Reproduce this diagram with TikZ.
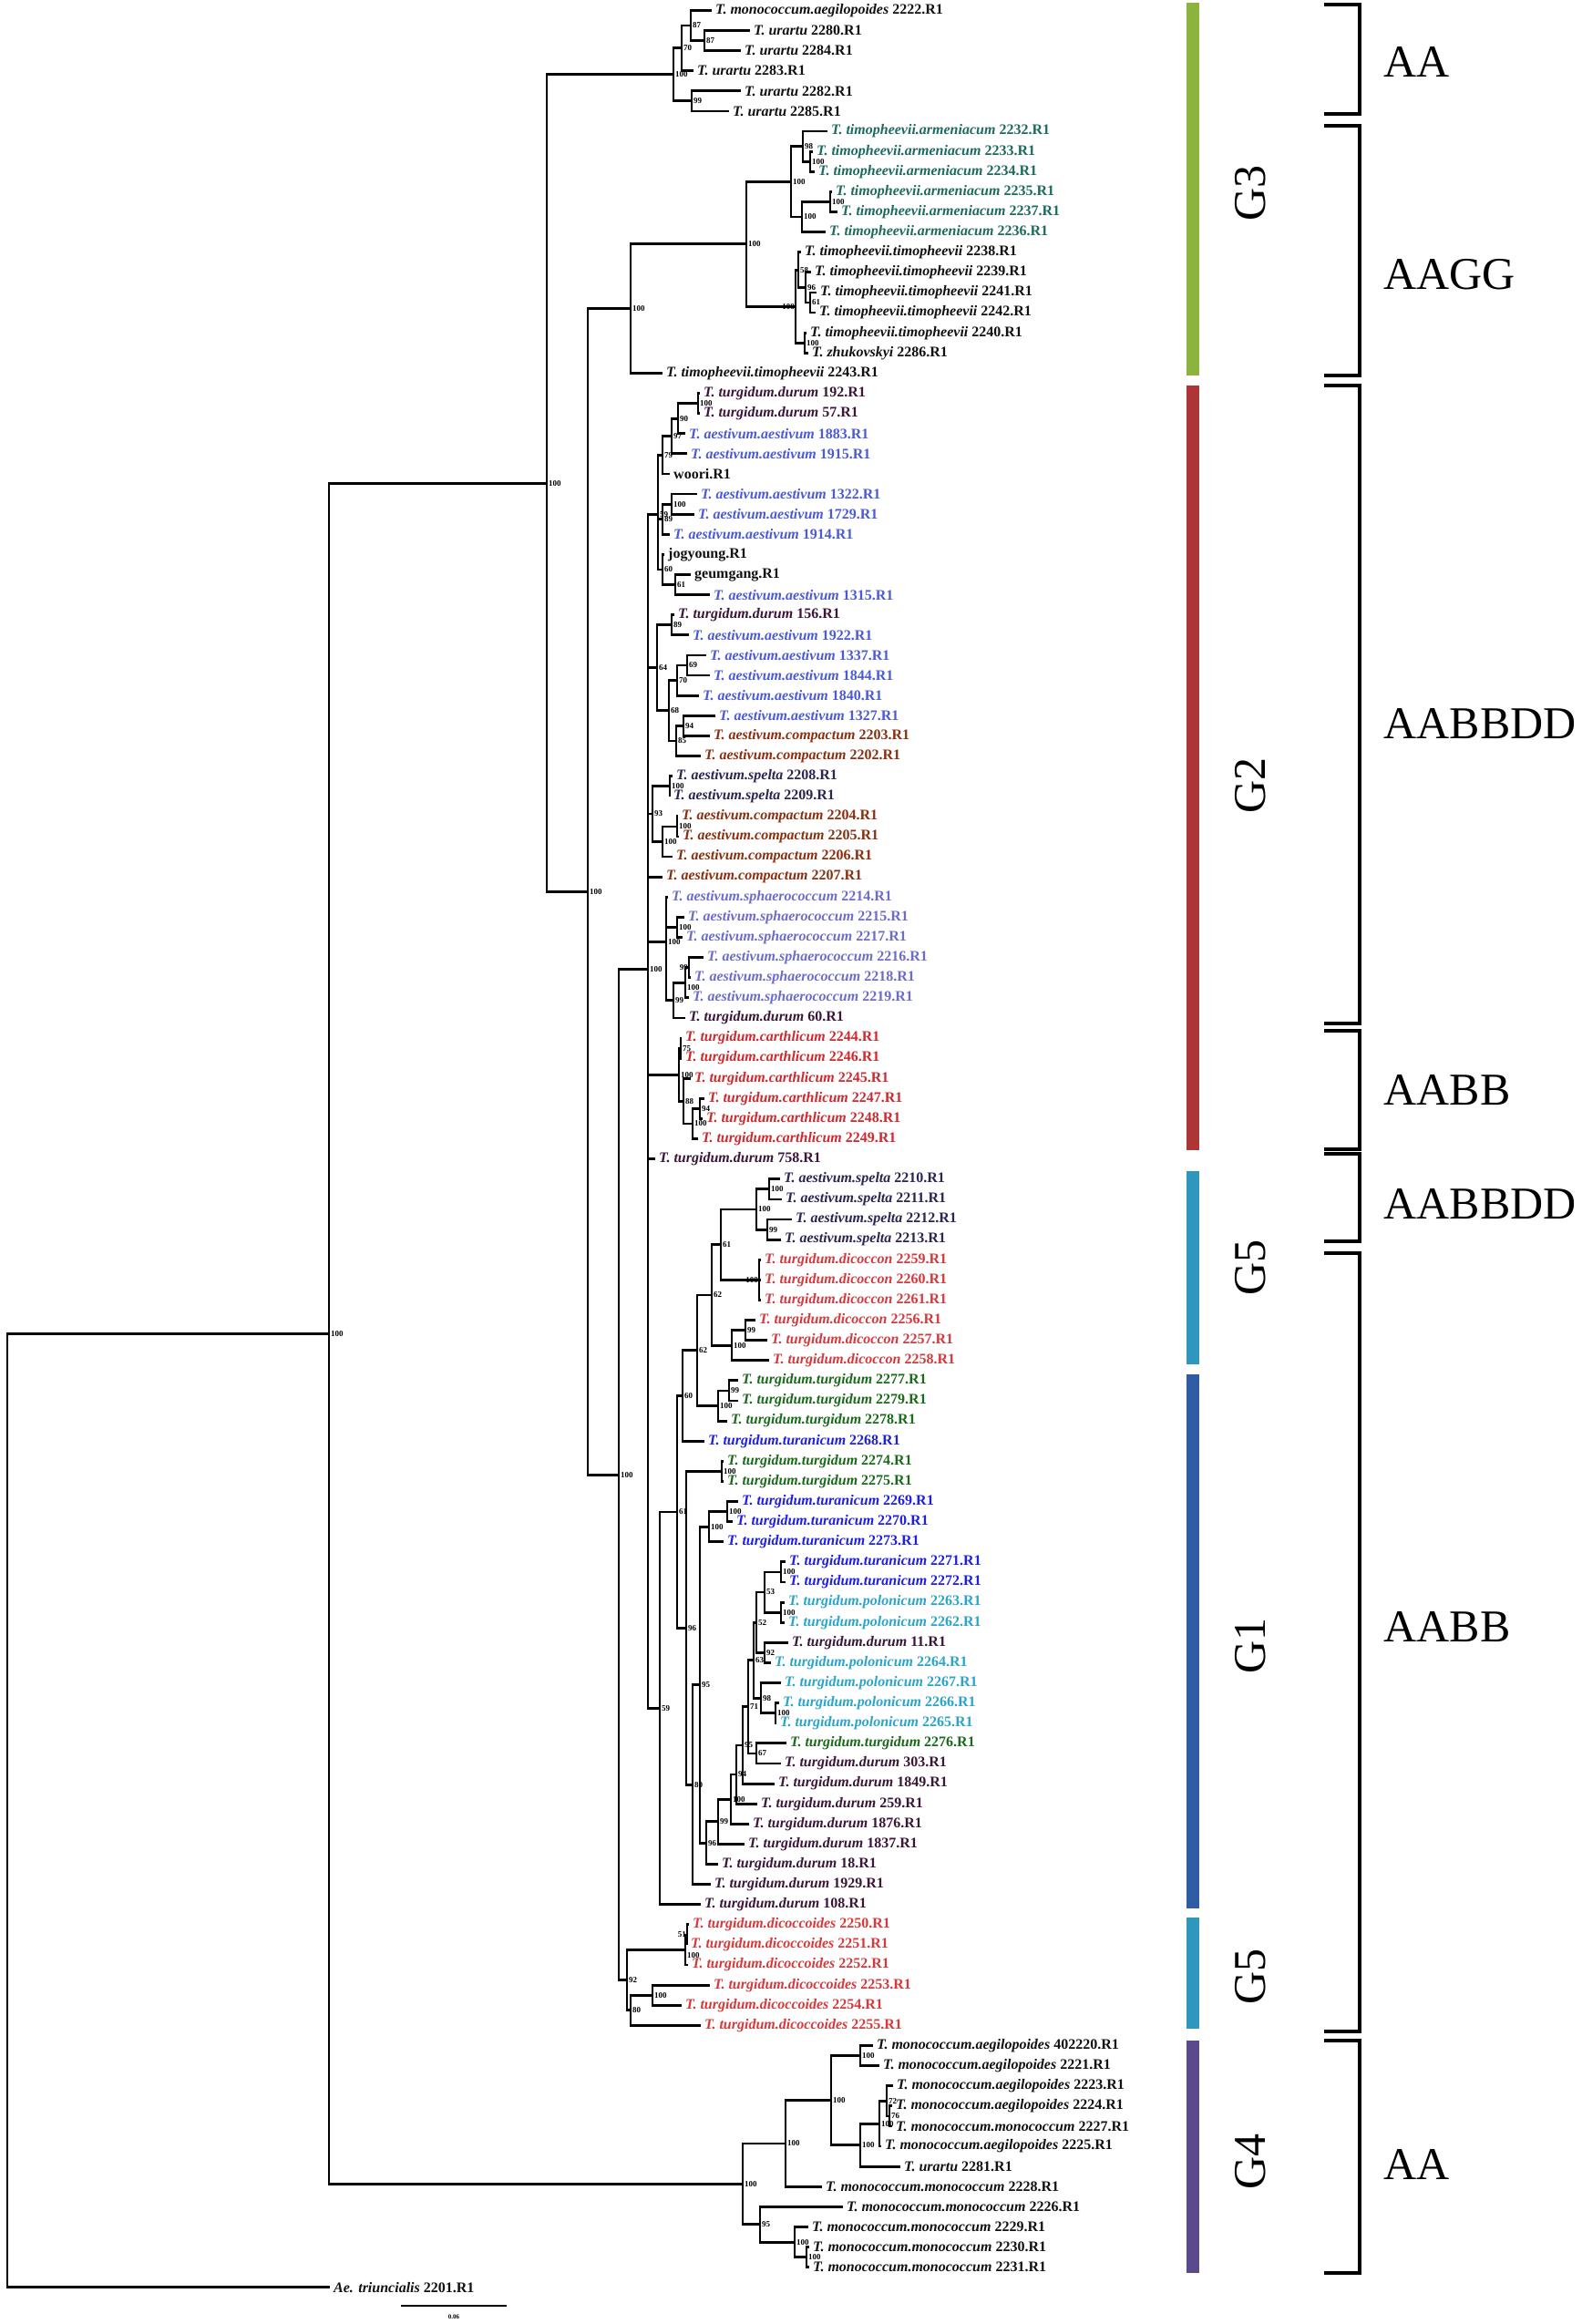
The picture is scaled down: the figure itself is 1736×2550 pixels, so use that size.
\documentclass[tikz,border=0pt]{standalone}
\usepackage{fontspec}
\setmainfont{Liberation Serif}
\definecolor{cblk}{HTML}{111111}
\definecolor{carm}{HTML}{1D6B5F}
\definecolor{cdur}{HTML}{3A1638}
\definecolor{caes}{HTML}{4B5AD6}
\definecolor{ccom}{HTML}{8A3010}
\definecolor{cspe}{HTML}{2B2550}
\definecolor{csph}{HTML}{6C6CCB}
\definecolor{ccar}{HTML}{CC2A2E}
\definecolor{cdic}{HTML}{D23A3E}
\definecolor{ctur}{HTML}{1B6A1B}
\definecolor{ctrn}{HTML}{1E1EE6}
\definecolor{cpol}{HTML}{2AA5C9}
\definecolor{cdcd}{HTML}{D6393B}
\definecolor{barG3}{HTML}{8CB43C}
\definecolor{barG2}{HTML}{AE3535}
\definecolor{barG5}{HTML}{2F97BD}
\definecolor{barG1}{HTML}{2E5DA6}
\definecolor{barG4}{HTML}{5A4A8C}
\newcommand\tx[2]{\textit{#1} #2}
\newcommand\lf[4]{\coordinate (l#1) at (#2,{11.4+(#1-1)*22.11}); \node[lab,text=#3] (t#1) at (l#1) {#4};}
\newcommand\kids[2]{\foreach \c in {#2} {\draw[br] (#1) |- (\c);}}
\begin{document}
\begin{tikzpicture}[x=1pt,y=-1pt,
  br/.style={line width=2.8pt, line join=miter},
  lab/.style={font=\fontsize{16}{16}\selectfont\bfseries, anchor=west, inner sep=0pt, xshift=4pt},
  bs/.style={font=\fontsize{9}{9}\selectfont\bfseries, anchor=west, inner sep=0pt, xshift=2pt},
  bsl/.style={font=\fontsize{9}{9}\selectfont\bfseries, anchor=east, inner sep=0pt, xshift=-1pt},
  bsb/.style={font=\fontsize{9}{9}\selectfont\bfseries, anchor=north west, inner sep=0pt, xshift=2pt, yshift=-2.5pt},
  glab/.style={font=\fontsize{50}{50}\selectfont, rotate=90},
  glab2/.style={font=\fontsize{50}{50}\selectfont},
  brk/.style={line width=4pt, line join=miter}]
\useasboundingbox (0,0) rectangle (1736,2550);
\fill[white] (0,0) rectangle (1736,2550);
% ---------------- internal nodes ----------------
\coordinate (r) at (8,1986.5);
\coordinate (A) at (361,1463.2);
\coordinate (B) at (600,530.1);
\coordinate (AAn) at (739,81.9);
\coordinate (X1) at (748,52.9);
\coordinate (X3) at (758,28.0);
\coordinate (X4) at (773,44.6);
\coordinate (X2) at (759,110.9);
\coordinate (C) at (645,978.4);
\coordinate (G) at (692,338.5);
\coordinate (T0) at (819,267.7);
\coordinate (T1) at (868,199.3);
\coordinate (T2) at (881,160.6);
\coordinate (T3) at (889,177.2);
\coordinate (T4) at (880,238.0);
\coordinate (T5) at (911,221.4);
\coordinate (TT) at (873,336.2);
\coordinate (P1) at (876,296.1);
\coordinate (P3) at (884,315.4);
\coordinate (P4) at (889,332.0);
\coordinate (P2) at (883,376.2);
\coordinate (D) at (679,1618.3);
\coordinate (E) at (711,1063.8);
\coordinate (K7) at (722,564.6);
\coordinate (K4) at (727,499.2);
\coordinate (K3) at (737,478.5);
\coordinate (K2) at (744,459.1);
\coordinate (K1) at (766,442.5);
\coordinate (K6) at (727,569.7);
\coordinate (K5) at (737,553.1);
\coordinate (K8) at (727,624.9);
\coordinate (K9) at (741,641.5);
\coordinate (L7) at (721,732.8);
\coordinate (L1) at (737,685.8);
\coordinate (L6) at (734,779.7);
\coordinate (L3) at (743,746.6);
\coordinate (L2) at (754,730.0);
\coordinate (L5) at (742,812.9);
\coordinate (L4) at (750,796.3);
\coordinate (M4) at (716,893.0);
\coordinate (M1) at (735,862.6);
\coordinate (M3) at (727,923.4);
\coordinate (M2) at (743,906.9);
\coordinate (N5) at (731,1033.1);
\coordinate (N1) at (743,1017.4);
\coordinate (N4) at (739,1097.6);
\coordinate (N3) at (752,1078.2);
\coordinate (N2) at (756,1061.6);
\coordinate (R5) at (745,1179.1);
\coordinate (R1) at (747,1150.1);
\coordinate (R4) at (750,1208.1);
\coordinate (R3) at (760,1233.0);
\coordinate (R2) at (768,1216.4);
\coordinate (S) at (724,1874.3);
\coordinate (T61) at (743,1658.9);
\coordinate (U12) at (749,1531.5);
\coordinate (U11) at (765,1481.8);
\coordinate (U8) at (781,1421.0);
\coordinate (U5) at (791,1365.7);
\coordinate (U3) at (830,1327.0);
\coordinate (U1) at (844,1304.8);
\coordinate (U2) at (842,1349.1);
\coordinate (U4) at (833,1404.3);
\coordinate (U7) at (803,1476.2);
\coordinate (U6) at (818,1459.6);
\coordinate (U10) at (788,1542.5);
\coordinate (U9) at (800,1525.9);
\coordinate (T96a) at (753,1786.3);
\coordinate (V1) at (792,1614.4);
\coordinate (T80) at (760,1958.2);
\coordinate (T95) at (768,1848.7);
\coordinate (V3) at (778,1675.2);
\coordinate (V2) at (798,1658.6);
\coordinate (T96b) at (775,2022.2);
\coordinate (T99) at (788,1998.8);
\coordinate (T100) at (802,1974.2);
\coordinate (T94) at (808,1947.0);
\coordinate (T95b) at (815,1914.9);
\coordinate (T71) at (821,1872.8);
\coordinate (T63) at (827,1821.7);
\coordinate (V8) at (830,1780.2);
\coordinate (V6) at (839,1747.0);
\coordinate (V4) at (857,1724.9);
\coordinate (V5) at (857,1769.1);
\coordinate (V7) at (839,1813.4);
\coordinate (V11) at (835,1863.1);
\coordinate (V10) at (851,1879.7);
\coordinate (V12) at (830,1923.9);
\coordinate (F) at (688,2172.7);
\coordinate (Q1) at (752,2139.5);
\coordinate (Qa) at (754,2122.9);
\coordinate (Q2) at (692,2205.8);
\coordinate (Q3) at (716,2189.2);
\coordinate (G4r) at (815,2396.3);
\coordinate (G4g) at (862,2351.9);
\coordinate (G4f) at (912,2304.6);
\coordinate (G4a) at (944,2255.6);
\coordinate (G4e) at (944,2353.7);
\coordinate (G4d) at (965,2330.2);
\coordinate (G4c) at (973,2305.3);
\coordinate (G4b) at (976,2321.9);
\coordinate (G4j) at (834,2440.7);
\coordinate (G4i) at (872,2460.1);
\coordinate (G4h) at (885,2476.7);
% ---------------- leaves ----------------
\lf{1}{781}{cblk}{\tx{T. monococcum.aegilopoides}{2222.R1}}
\lf{2}{823}{cblk}{\tx{T. urartu}{2280.R1}}
\lf{3}{813}{cblk}{\tx{T. urartu}{2284.R1}}
\lf{4}{761}{cblk}{\tx{T. urartu}{2283.R1}}
\lf{5}{813}{cblk}{\tx{T. urartu}{2282.R1}}
\lf{6}{800}{cblk}{\tx{T. urartu}{2285.R1}}
\lf{7}{908}{carm}{\tx{T. timopheevii.armeniacum}{2232.R1}}
\lf{8}{892}{carm}{\tx{T. timopheevii.armeniacum}{2233.R1}}
\lf{9}{894}{carm}{\tx{T. timopheevii.armeniacum}{2234.R1}}
\lf{10}{913}{carm}{\tx{T. timopheevii.armeniacum}{2235.R1}}
\lf{11}{919}{carm}{\tx{T. timopheevii.armeniacum}{2237.R1}}
\lf{12}{906}{carm}{\tx{T. timopheevii.armeniacum}{2236.R1}}
\lf{13}{879}{cblk}{\tx{T. timopheevii.timopheevii}{2238.R1}}
\lf{14}{890}{cblk}{\tx{T. timopheevii.timopheevii}{2239.R1}}
\lf{15}{896}{cblk}{\tx{T. timopheevii.timopheevii}{2241.R1}}
\lf{16}{895}{cblk}{\tx{T. timopheevii.timopheevii}{2242.R1}}
\lf{17}{885}{cblk}{\tx{T. timopheevii.timopheevii}{2240.R1}}
\lf{18}{887}{cblk}{\tx{T. zhukovskyi}{2286.R1}}
\lf{19}{727}{cblk}{\tx{T. timopheevii.timopheevii}{2243.R1}}
\lf{20}{768}{cdur}{\tx{T. turgidum.durum}{192.R1}}
\lf{21}{768}{cdur}{\tx{T. turgidum.durum}{57.R1}}
\lf{22}{752}{caes}{\tx{T. aestivum.aestivum}{1883.R1}}
\lf{23}{754}{caes}{\tx{T. aestivum.aestivum}{1915.R1}}
\lf{24}{735}{cblk}{woori.R1}
\lf{25}{765}{caes}{\tx{T. aestivum.aestivum}{1322.R1}}
\lf{26}{762}{caes}{\tx{T. aestivum.aestivum}{1729.R1}}
\lf{27}{735}{caes}{\tx{T. aestivum.aestivum}{1914.R1}}
\lf{28}{729}{cblk}{jogyoung.R1}
\lf{29}{758}{cblk}{geumgang.R1}
\lf{30}{779}{caes}{\tx{T. aestivum.aestivum}{1315.R1}}
\lf{31}{740}{cdur}{\tx{T. turgidum.durum}{156.R1}}
\lf{32}{756}{caes}{\tx{T. aestivum.aestivum}{1922.R1}}
\lf{33}{775}{caes}{\tx{T. aestivum.aestivum}{1337.R1}}
\lf{34}{779}{caes}{\tx{T. aestivum.aestivum}{1844.R1}}
\lf{35}{767}{caes}{\tx{T. aestivum.aestivum}{1840.R1}}
\lf{36}{785}{caes}{\tx{T. aestivum.aestivum}{1327.R1}}
\lf{37}{779}{ccom}{\tx{T. aestivum.compactum}{2203.R1}}
\lf{38}{769}{ccom}{\tx{T. aestivum.compactum}{2202.R1}}
\lf{39}{738}{cspe}{\tx{T. aestivum.spelta}{2208.R1}}
\lf{40}{735}{cspe}{\tx{T. aestivum.spelta}{2209.R1}}
\lf{41}{744}{ccom}{\tx{T. aestivum.compactum}{2204.R1}}
\lf{42}{745}{ccom}{\tx{T. aestivum.compactum}{2205.R1}}
\lf{43}{738}{ccom}{\tx{T. aestivum.compactum}{2206.R1}}
\lf{44}{727}{ccom}{\tx{T. aestivum.compactum}{2207.R1}}
\lf{45}{733}{csph}{\tx{T. aestivum.sphaerococcum}{2214.R1}}
\lf{46}{751}{csph}{\tx{T. aestivum.sphaerococcum}{2215.R1}}
\lf{47}{749}{csph}{\tx{T. aestivum.sphaerococcum}{2217.R1}}
\lf{48}{772}{csph}{\tx{T. aestivum.sphaerococcum}{2216.R1}}
\lf{49}{758}{csph}{\tx{T. aestivum.sphaerococcum}{2218.R1}}
\lf{50}{756}{csph}{\tx{T. aestivum.sphaerococcum}{2219.R1}}
\lf{51}{752}{cdur}{\tx{T. turgidum.durum}{60.R1}}
\lf{52}{748}{ccar}{\tx{T. turgidum.carthlicum}{2244.R1}}
\lf{53}{748}{ccar}{\tx{T. turgidum.carthlicum}{2246.R1}}
\lf{54}{758}{ccar}{\tx{T. turgidum.carthlicum}{2245.R1}}
\lf{55}{773}{ccar}{\tx{T. turgidum.carthlicum}{2247.R1}}
\lf{56}{771}{ccar}{\tx{T. turgidum.carthlicum}{2248.R1}}
\lf{57}{766}{ccar}{\tx{T. turgidum.carthlicum}{2249.R1}}
\lf{58}{719}{cdur}{\tx{T. turgidum.durum}{758.R1}}
\lf{59}{856}{cspe}{\tx{T. aestivum.spelta}{2210.R1}}
\lf{60}{858}{cspe}{\tx{T. aestivum.spelta}{2211.R1}}
\lf{61}{869}{cspe}{\tx{T. aestivum.spelta}{2212.R1}}
\lf{62}{857}{cspe}{\tx{T. aestivum.spelta}{2213.R1}}
\lf{63}{835}{cdic}{\tx{T. turgidum.dicoccon}{2259.R1}}
\lf{64}{835}{cdic}{\tx{T. turgidum.dicoccon}{2260.R1}}
\lf{65}{835}{cdic}{\tx{T. turgidum.dicoccon}{2261.R1}}
\lf{66}{829}{cdic}{\tx{T. turgidum.dicoccon}{2256.R1}}
\lf{67}{842}{cdic}{\tx{T. turgidum.dicoccon}{2257.R1}}
\lf{68}{844}{cdic}{\tx{T. turgidum.dicoccon}{2258.R1}}
\lf{69}{810}{ctur}{\tx{T. turgidum.turgidum}{2277.R1}}
\lf{70}{810}{ctur}{\tx{T. turgidum.turgidum}{2279.R1}}
\lf{71}{798}{ctur}{\tx{T. turgidum.turgidum}{2278.R1}}
\lf{72}{773}{ctrn}{\tx{T. turgidum.turanicum}{2268.R1}}
\lf{73}{794}{ctur}{\tx{T. turgidum.turgidum}{2274.R1}}
\lf{74}{794}{ctur}{\tx{T. turgidum.turgidum}{2275.R1}}
\lf{75}{810}{ctrn}{\tx{T. turgidum.turanicum}{2269.R1}}
\lf{76}{804}{ctrn}{\tx{T. turgidum.turanicum}{2270.R1}}
\lf{77}{794}{ctrn}{\tx{T. turgidum.turanicum}{2273.R1}}
\lf{78}{862}{ctrn}{\tx{T. turgidum.turanicum}{2271.R1}}
\lf{79}{862}{ctrn}{\tx{T. turgidum.turanicum}{2272.R1}}
\lf{80}{861}{cpol}{\tx{T. turgidum.polonicum}{2263.R1}}
\lf{81}{861}{cpol}{\tx{T. turgidum.polonicum}{2262.R1}}
\lf{82}{865}{cdur}{\tx{T. turgidum.durum}{11.R1}}
\lf{83}{846}{cpol}{\tx{T. turgidum.polonicum}{2264.R1}}
\lf{84}{857}{cpol}{\tx{T. turgidum.polonicum}{2267.R1}}
\lf{85}{855}{cpol}{\tx{T. turgidum.polonicum}{2266.R1}}
\lf{86}{852}{cpol}{\tx{T. turgidum.polonicum}{2265.R1}}
\lf{87}{863}{ctur}{\tx{T. turgidum.turgidum}{2276.R1}}
\lf{88}{857}{cdur}{\tx{T. turgidum.durum}{303.R1}}
\lf{89}{850}{cdur}{\tx{T. turgidum.durum}{1849.R1}}
\lf{90}{831}{cdur}{\tx{T. turgidum.durum}{259.R1}}
\lf{91}{822}{cdur}{\tx{T. turgidum.durum}{1876.R1}}
\lf{92}{817}{cdur}{\tx{T. turgidum.durum}{1837.R1}}
\lf{93}{788}{cdur}{\tx{T. turgidum.durum}{18.R1}}
\lf{94}{780}{cdur}{\tx{T. turgidum.durum}{1929.R1}}
\lf{95}{769}{cdur}{\tx{T. turgidum.durum}{108.R1}}
\lf{96}{756}{cdcd}{\tx{T. turgidum.dicoccoides}{2250.R1}}
\lf{97}{754}{cdcd}{\tx{T. turgidum.dicoccoides}{2251.R1}}
\lf{98}{755}{cdcd}{\tx{T. turgidum.dicoccoides}{2252.R1}}
\lf{99}{779}{cdcd}{\tx{T. turgidum.dicoccoides}{2253.R1}}
\lf{100}{748}{cdcd}{\tx{T. turgidum.dicoccoides}{2254.R1}}
\lf{101}{769}{cdcd}{\tx{T. turgidum.dicoccoides}{2255.R1}}
\lf{102}{958}{cblk}{\tx{T. monococcum.aegilopoides}{402220.R1}}
\lf{103}{965}{cblk}{\tx{T. monococcum.aegilopoides}{2221.R1}}
\lf{104}{980}{cblk}{\tx{T. monococcum.aegilopoides}{2223.R1}}
\lf{105}{979}{cblk}{\tx{T. monococcum.aegilopoides}{2224.R1}}
\lf{106}{979}{cblk}{\tx{T. monococcum.monococcum}{2227.R1}}
\lf{107}{967}{cblk}{\tx{T. monococcum.aegilopoides}{2225.R1}}
\lf{108}{988}{cblk}{\tx{T. urartu}{2281.R1}}
\lf{109}{902}{cblk}{\tx{T. monococcum.monococcum}{2228.R1}}
\lf{110}{925}{cblk}{\tx{T. monococcum.monococcum}{2226.R1}}
\lf{111}{887}{cblk}{\tx{T. monococcum.monococcum}{2229.R1}}
\lf{112}{888}{cblk}{\tx{T. monococcum.monococcum}{2230.R1}}
\lf{113}{888}{cblk}{\tx{T. monococcum.monococcum}{2231.R1}}
\lf{114}{362}{cblk}{\tx{Ae. triuncialis}{2201.R1}}
% ---------------- branches ----------------
\kids{r}{A,l114}
\kids{A}{B,G4r}
\kids{B}{AAn,C}
\kids{AAn}{X1,X2}
\kids{X1}{X3,l4}
\kids{X3}{l1,X4}
\kids{X4}{l2,l3}
\kids{X2}{l5,l6}
\kids{C}{G,D}
\kids{G}{T0,l19}
\kids{T0}{T1,TT}
\kids{T1}{T2,T4}
\kids{T2}{l7,T3}
\kids{T3}{l8,l9}
\kids{T4}{T5,l12}
\kids{T5}{l10,l11}
\kids{TT}{P1,P2}
\kids{P1}{l13,P3}
\kids{P3}{l14,P4}
\kids{P4}{l15,l16}
\kids{P2}{l17,l18}
\kids{D}{E,F}
\kids{E}{K7,L7,M4,l44,N5,R5,l58,S}
\kids{K7}{K4,K6,K8}
\kids{K4}{K3,l24}
\kids{K3}{K2,l23}
\kids{K2}{K1,l22}
\kids{K1}{l20,l21}
\kids{K6}{K5,l27}
\kids{K5}{l25,l26}
\kids{K8}{l28,K9}
\kids{K9}{l29,l30}
\kids{L7}{L1,L6}
\kids{L1}{l31,l32}
\kids{L6}{L3,L5}
\kids{L3}{L2,l35}
\kids{L2}{l33,l34}
\kids{L5}{L4,l38}
\kids{L4}{l36,l37}
\kids{M4}{M1,M3}
\kids{M1}{l39,l40}
\kids{M3}{M2,l43}
\kids{M2}{l41,l42}
\kids{N5}{l45,N1,N4}
\kids{N1}{l46,l47}
\kids{N4}{N3,l51}
\kids{N3}{N2,l50}
\kids{N2}{l48,l49}
\kids{R5}{R1,R4}
\kids{R1}{l52,l53}
\kids{R4}{l54,R3}
\kids{R3}{R2,l57}
\kids{R2}{l55,l56}
\kids{S}{T61,l95}
\kids{T61}{U12,T96a}
\kids{U12}{U11,l72}
\kids{U11}{U8,U10}
\kids{U8}{U5,U7}
\kids{U5}{U3,U4}
\kids{U3}{U1,U2}
\kids{U1}{l59,l60}
\kids{U2}{l61,l62}
\kids{U4}{l63,l64,l65}
\kids{U7}{U6,l68}
\kids{U6}{l66,l67}
\kids{U10}{U9,l71}
\kids{U9}{l69,l70}
\kids{T96a}{V1,T80}
\kids{V1}{l73,l74}
\kids{T80}{T95,l94}
\kids{T95}{V3,T96b}
\kids{V3}{V2,l77}
\kids{V2}{l75,l76}
\kids{T96b}{T99,l93}
\kids{T99}{T100,l92}
\kids{T100}{T94,l91}
\kids{T94}{T95b,l90}
\kids{T95b}{T71,l89}
\kids{T71}{T63,V12}
\kids{T63}{V8,V11}
\kids{V8}{V6,V7}
\kids{V6}{V4,V5}
\kids{V4}{l78,l79}
\kids{V5}{l80,l81}
\kids{V7}{l82,l83}
\kids{V11}{l84,V10}
\kids{V10}{l85,l86}
\kids{V12}{l87,l88}
\kids{F}{Q1,Q2}
\kids{Q1}{Qa,l98}
\kids{Qa}{l96,l97}
\kids{Q2}{Q3,l101}
\kids{Q3}{l99,l100}
\kids{G4r}{G4g,G4j}
\kids{G4g}{G4f,l109}
\kids{G4f}{G4a,G4e}
\kids{G4a}{l102,l103}
\kids{G4e}{G4d,l108}
\kids{G4d}{G4c,l107}
\kids{G4c}{l104,G4b}
\kids{G4b}{l105,l106}
\kids{G4j}{l110,G4i}
\kids{G4i}{l111,G4h}
\kids{G4h}{l112,l113}
% ---------------- bootstrap values ----------------
\foreach \n/\v in {A/100,B/100,AAn/100,X1/70,X3/87,X4/87,X2/99,C/100,G/100,T0/100,T1/100,T2/98,T3/100,T4/100,T5/100,P1/58,P3/96,P4/61,P2/100,
 D/100,E/100,K7/59,K4/79,K3/97,K2/90,K1/100,K6/89,K5/100,K8/60,K9/61,L7/64,L1/89,L6/68,L3/70,L2/69,L5/85,L4/94,M4/93,M1/100,M3/100,M2/100,
 N5/100,N1/100,N4/99,R5/100,R1/75,R4/88,R3/100,R2/94,S/59,T61/61,U12/60,U11/62,U8/62,U5/61,U3/100,U1/100,U2/99,U7/100,U6/99,
 U10/100,U9/99,T96a/96,V1/100,T80/80,T95/95,V3/100,V2/100,T96b/96,T99/99,T100/100,T94/94,T95b/95,T71/71,T63/63,V8/52,V6/53,V4/100,V5/100,V7/92,
 V11/98,V10/100,V12/67,F/92,Q2/80,Q3/100,G4r/100,G4g/100,G4f/100,G4a/100,G4e/100,G4d/100,G4c/72,G4b/76,G4j/95,G4i/100,G4h/100}
 {\node[bs] (bs\n) at (\n) {\v};}
\node[bsl] (bsU4) at (U4) {100};
\node[bsl] (bsTT) at (TT) {100};
\node[bsl] (bsN2) at (N2) {99};
\node[bsl] (bsQa) at (Qa) {51};
\node[bsb] (bsN3) at (N3) {100};
\node[bsb] (bsQ1) at (Q1) {100};
% ---------------- scale bar ----------------
\coordinate (sb1) at (440,2530);
\coordinate (sb2) at (556,2530);
\draw[line width=1.6pt] (sb1) -- (sb2);
\node[font=\fontsize{7}{7}\selectfont\bfseries] (sbl) at (498,2542) {0.06};
% ---------------- group bars ----------------
\fill[barG3] (1302,3) rectangle (1316,412);
\fill[barG2] (1302,423) rectangle (1316,1262);
\fill[barG5] (1302,1285) rectangle (1316,1497);
\fill[barG1] (1302,1508) rectangle (1316,2094);
\fill[barG5] (1302,2104) rectangle (1316,2226);
\fill[barG4] (1302,2239) rectangle (1316,2494);
\node[glab] (gG3) at (1372,212) {G3};
\node[glab] (gG2) at (1372,862) {G2};
\node[glab] (gG5a) at (1372,1391) {G5};
\node[glab] (gG1) at (1372,1806) {G1};
\node[glab] (gG5b) at (1372,2169) {G5};
\node[glab] (gG4) at (1372,2372) {G4};
% ---------------- genome brackets ----------------
\foreach \a/\b in {5/125,138/412,423/1123,1131/1261,1266/1362,1375/2229,2239/2494}
 {\draw[brk] (1453,\a) -- (1492,\a) -- (1492,\b) -- (1453,\b);}
\node[glab2,anchor=west] (gAA1) at (1515,68) {AA};
\node[glab2,anchor=west] (gAAGG) at (1515,301) {AAGG};
\node[glab2,anchor=west] (gD1) at (1515,794) {AABBDD};
\node[glab2,anchor=west] (gB1) at (1515,1196) {AABB};
\node[glab2,anchor=west] (gD2) at (1515,1321) {AABBDD};
\node[glab2,anchor=west] (gB2) at (1515,1785) {AABB};
\node[glab2,anchor=west] (gAA2) at (1515,2375) {AA};
\end{tikzpicture}
\end{document}
